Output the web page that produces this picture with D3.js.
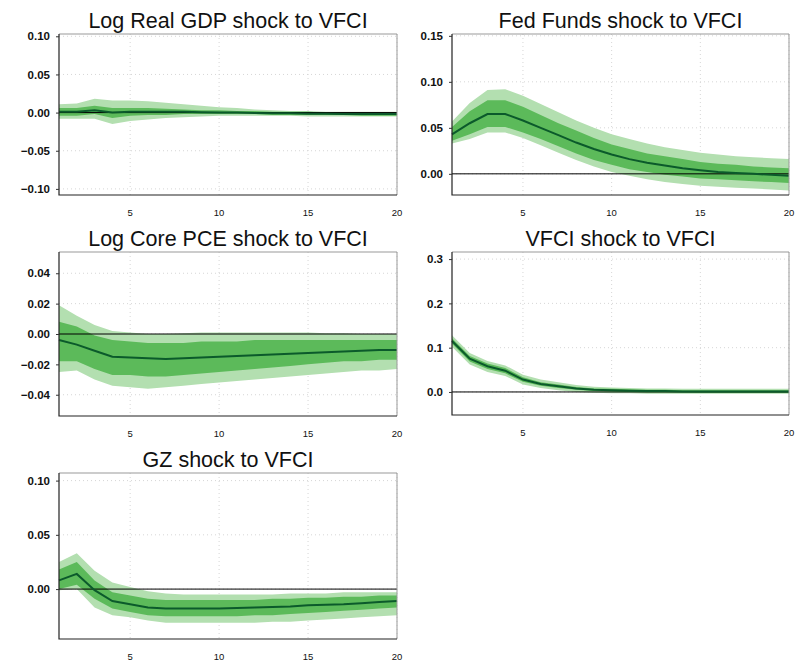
<!DOCTYPE html>
<html><head><meta charset="utf-8">
<script src="https://cdn.jsdelivr.net/npm/d3@7"></script>
<style>body{margin:0;background:#fff}svg{font-family:"Liberation Sans",Arial,sans-serif}</style>
</head><body>
<svg id="c" width="796" height="667"></svg>
<script>
var horizon = d3.range(1, 21)

var titles = ['Log Real GDP shock to VFCI', 'Fed Funds shock to VFCI', 'Log Core PCE shock to VFCI', 'VFCI shock to VFCI', 'GZ shock to VFCI']

// median, 68% band, 90% band
var gdpMed  = [0.001,0.001,0.003,0.0,0.001,0.001,0.001,0.001,0.0005,0.0,0,-0.0005,-0.001,-0.001,-0.0015,-0.0015,-0.002,-0.002,-0.002,-0.002]
var gdpLo68 = [-0.004,-0.004,-0.002,-0.007,-0.004,-0.003,-0.003,-0.002,-0.002,-0.002,-0.002,-0.002,-0.003,-0.003,-0.003,-0.003,-0.003,-0.004,-0.004,-0.004]
var gdpHi68 = [0.006,0.006,0.009,0.006,0.006,0.006,0.005,0.004,0.003,0.003,0.002,0.002,0.001,0.001,0.001,0.0,0.0,0.0,0.0,0.0]
var gdpLo90 = [-0.008,-0.008,-0.008,-0.015,-0.011,-0.009,-0.007,-0.006,-0.005,-0.004,-0.004,-0.004,-0.004,-0.004,-0.005,-0.005,-0.005,-0.005,-0.005,-0.005]
var gdpHi90 = [0.011,0.012,0.018,0.016,0.016,0.015,0.013,0.011,0.009,0.007,0.006,0.004,0.003,0.002,0.002,0.001,0.001,0.001,0.001,0.001]

var ffMed  = [0.043,0.055,0.065,0.065,0.058,0.050,0.042,0.034,0.027,0.021,0.016,0.012,0.009,0.006,0.004,0.002,0.001,0,-0.001,-0.002]
var ffHi68 = [0.051,0.068,0.080,0.080,0.073,0.064,0.055,0.047,0.039,0.032,0.027,0.022,0.019,0.016,0.013,0.011,0.010,0.008,0.007,0.006]
var ffLo68 = [0.036,0.043,0.051,0.051,0.045,0.038,0.030,0.022,0.015,0.010,0.005,0.002,-0.001,-0.003,-0.005,-0.006,-0.007,-0.008,-0.009,-0.010]
var ffHi90 = [0.057,0.077,0.091,0.092,0.085,0.076,0.067,0.058,0.050,0.043,0.038,0.033,0.029,0.026,0.023,0.021,0.019,0.018,0.017,0.016]
var ffLo90 = [0.033,0.038,0.045,0.045,0.039,0.031,0.023,0.015,0.008,0.002,-0.002,-0.006,-0.009,-0.011,-0.013,-0.014,-0.015,-0.016,-0.017,-0.018]

var pceMed  = [-0.004,-0.007,-0.011,-0.015,-0.0155,-0.016,-0.0165,-0.016,-0.0155,-0.015,-0.0145,-0.014,-0.0135,-0.013,-0.0125,-0.012,-0.0115,-0.011,-0.0105,-0.0105]
var pceHi68 = [0.008,0.005,-0.001,-0.004,-0.005,-0.006,-0.006,-0.006,-0.005,-0.005,-0.005,-0.004,-0.004,-0.004,-0.004,-0.004,-0.004,-0.004,-0.004,-0.004]
var pceLo68 = [-0.018,-0.018,-0.023,-0.027,-0.027,-0.028,-0.028,-0.027,-0.026,-0.025,-0.024,-0.023,-0.022,-0.021,-0.020,-0.019,-0.018,-0.018,-0.017,-0.017]
var pceHi90 = [0.019,0.012,0.006,0.002,0.001,0.0,0.0,0.0005,0.001,0.001,0.001,0.001,0.001,0.001,0.001,0.0005,0.0005,0.0,0.0,0.0]
var pceLo90 = [-0.025,-0.024,-0.030,-0.034,-0.035,-0.036,-0.035,-0.034,-0.033,-0.032,-0.031,-0.030,-0.029,-0.028,-0.027,-0.026,-0.025,-0.024,-0.024,-0.023]

var vfciMed  = [0.115,0.075,0.058,0.048,0.028,0.018,0.013,0.008,0.005,0.004,0.003,0.002,0.002,0.001,0.001,0.001,0.001,0.001,0.001,0.001]
var vfciHi68 = [0.121,0.081,0.064,0.054,0.033,0.022,0.017,0.011,0.008,0.007,0.006,0.005,0.005,0.004,0.004,0.004,0.004,0.004,0.004,0.004]
var vfciLo68 = [0.109,0.069,0.052,0.042,0.023,0.014,0.009,0.005,0.002,0.001,0.0,-0.001,-0.001,-0.001,-0.002,-0.002,-0.002,-0.002,-0.002,-0.002]
var vfciHi90 = [0.128,0.088,0.070,0.060,0.039,0.028,0.022,0.016,0.012,0.010,0.009,0.008,0.008,0.007,0.007,0.007,0.007,0.007,0.007,0.007]
var vfciLo90 = [0.102,0.062,0.045,0.036,0.017,0.009,0.004,0.0,-0.002,-0.003,-0.003,-0.004,-0.004,-0.004,-0.004,-0.004,-0.004,-0.004,-0.004,-0.004]

var gzMed  = [0.008,0.014,-0.001,-0.011,-0.014,-0.017,-0.018,-0.018,-0.018,-0.018,-0.0175,-0.017,-0.0165,-0.016,-0.015,-0.0145,-0.014,-0.013,-0.012,-0.011]
var gzHi68 = [0.018,0.025,0.008,-0.003,-0.006,-0.009,-0.010,-0.010,-0.010,-0.010,-0.010,-0.010,-0.009,-0.009,-0.008,-0.008,-0.007,-0.007,-0.006,-0.006]
var gzLo68 = [0.0,0.004,-0.009,-0.018,-0.021,-0.024,-0.025,-0.025,-0.025,-0.025,-0.025,-0.024,-0.024,-0.023,-0.022,-0.021,-0.020,-0.019,-0.018,-0.017]
var gzHi90 = [0.025,0.033,0.017,0.006,0.002,-0.002,-0.004,-0.005,-0.005,-0.005,-0.005,-0.005,-0.005,-0.004,-0.004,-0.004,-0.003,-0.003,-0.003,-0.003]
var gzLo90 = [-0.001,0.0,-0.017,-0.024,-0.026,-0.029,-0.031,-0.031,-0.031,-0.031,-0.031,-0.031,-0.030,-0.030,-0.029,-0.028,-0.027,-0.026,-0.025,-0.024]

var xTicks = [5, 10, 15, 20]
var yTicks = [[-0.10,-0.05,0,0.05,0.10],[0,0.05,0.10,0.15],[-0.04,-0.02,0,0.02,0.04],[0,0.1,0.2,0.3],[0,0.05,0.10]]
var yFmt = ['.2f','.2f','.2f','.1f','.2f']
var yDomains = [[-0.108,0.103],[-0.023,0.152],[-0.054,0.054],[-0.052,0.316],[-0.046,0.107]]

var panels = [
  {med: gdpMed, lo68: gdpLo68, hi68: gdpHi68, lo90: gdpLo90, hi90: gdpHi90},
  {med: ffMed, lo68: ffLo68, hi68: ffHi68, lo90: ffLo90, hi90: ffHi90},
  {med: pceMed, lo68: pceLo68, hi68: pceHi68, lo90: pceLo90, hi90: pceHi90},
  {med: vfciMed, lo68: vfciLo68, hi68: vfciHi68, lo90: vfciLo90, hi90: vfciHi90},
  {med: gzMed, lo68: gzLo68, hi68: gzHi68, lo90: gzLo90, hi90: gzHi90}
]

// plot boxes [left, top, right, bottom]
var boxes = [[59,34,397,195],[452,34,789,195],[59,252,397,416],[452,252,789,415],[59,473,397,639]]

var svg = d3.select('#c')

panels.forEach(function(p, k) {
  var b = boxes[k]
  var x = d3.scaleLinear().domain([1, 20]).range([b[0], b[2]])
  var y = d3.scaleLinear().domain(yDomains[k]).range([b[3], b[1]])
  var g = svg.append('g')

  // dotted grid
  g.selectAll('.gx').data(xTicks).enter().append('line')
    .attr('x1', d => x(d)).attr('x2', d => x(d)).attr('y1', b[1]).attr('y2', b[3])
    .attr('stroke', '#d6d6d6').attr('stroke-dasharray', '1,3')
  g.selectAll('.gy').data(yTicks[k]).enter().append('line')
    .attr('x1', b[0]).attr('x2', b[2]).attr('y1', d => y(d)).attr('y2', d => y(d))
    .attr('stroke', '#d6d6d6').attr('stroke-dasharray', '1,3')

  var band = (lo, hi) => d3.area().x((d, i) => x(horizon[i])).y0((d, i) => y(lo[i])).y1((d, i) => y(hi[i]))
  g.append('path').attr('d', band(p.lo90, p.hi90)(horizon)).attr('fill', '#b3dfb0')
  g.append('path').attr('d', band(p.lo68, p.hi68)(horizon)).attr('fill', '#5cba5a')

  g.append('line').attr('x1', b[0]).attr('x2', b[2]).attr('y1', y(0)).attr('y2', y(0))
    .attr('stroke', '#000').attr('stroke-width', 1)

  g.append('path')
    .attr('d', d3.line().x((d, i) => x(horizon[i])).y(d => y(d))(p.med))
    .attr('fill', 'none').attr('stroke', '#0b5a2b').attr('stroke-width', 2)

  // frame: grey top/right, dark left/bottom
  g.append('path').attr('d', `M${b[0]},${b[1]}H${b[2]}V${b[3]}`).attr('fill', 'none').attr('stroke', '#999').attr('stroke-width', 1)
  g.append('path').attr('d', `M${b[0]},${b[1]}V${b[3]}H${b[2]}`).attr('fill', 'none').attr('stroke', '#222').attr('stroke-width', 1.2)

  // y ticks
  var ya = d3.axisLeft(y).tickValues(yTicks[k]).tickSize(3).tickFormat(d => d3.format(yFmt[k])(d).replace('-', '\u2212'))
  var yg = g.append('g').attr('transform', `translate(${b[0]},0)`).call(ya)
  yg.select('.domain').remove()
  yg.selectAll('text').attr('font-size', 11.5).attr('font-weight', 'bold').attr('fill', '#111').attr('dx', -3)
  yg.selectAll('line').attr('stroke', '#333')

  // x labels
  g.selectAll('.xl').data(xTicks).enter().append('text')
    .attr('x', d => x(d)).attr('y', b[3] + 21).attr('text-anchor', 'middle')
    .attr('font-size', 9.5).attr('fill', '#111').text(d => d)

  g.append('text').attr('x', (b[0] + b[2]) / 2).attr('y', b[1] - 6).attr('text-anchor', 'middle')
    .attr('font-size', 21.5).attr('fill', '#111').text(titles[k])
})
</script>
</body></html>
